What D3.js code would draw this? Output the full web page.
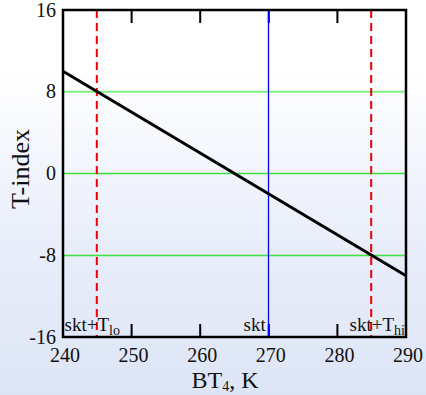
<!DOCTYPE html>
<html><head><meta charset="utf-8">
<script src="https://cdn.jsdelivr.net/npm/d3@7"></script>
<style>
html,body{margin:0;padding:0;}
body{width:426px;height:395px;overflow:hidden;background:linear-gradient(to bottom,#ffffff 0%,#ffffff 18%,#e9eefa 60%,#dde5f5 100%);}
svg{display:block;}
</style></head>
<body>
<script>
const xDomain = [240, 290];
const yDomain = [-16, 16];
const xTicks = [240, 250, 260, 270, 280, 290];
const yTicks = [16, 8, 0, -8, -16];
const lineX = [240, 290];
const lineY = [10, -10];
const hGrid = [8, 0, -8];
const skt = 270;
const tLo = -25;
const tHi = 15;
const innerTicks = [250, 260, 270, 280];

const W = 426, H = 395;
const FONT = "'Liberation Serif', 'Times New Roman', serif";
const m = {l: 63, r: 20, t: 10, b: 58};
const svg = d3.select("body").append("svg").attr("width", W).attr("height", H);
const x = d3.scaleLinear().domain(xDomain).range([m.l, W - m.r]);
const y = d3.scaleLinear().domain(yDomain).range([H - m.b, m.t]);

const g = svg.append("g");
// green horizontal lines
hGrid.forEach((v, i) => {
  const yy = i === 0 ? y(v) : Math.floor(y(v)) + 0.5;
  g.append("line").attr("x1", x(xDomain[0])).attr("x2", x(xDomain[1]))
    .attr("y1", yy).attr("y2", yy)
    .attr("stroke", i === 0 ? "#80ee80" : "#3ee03e")
    .attr("stroke-width", i === 0 ? 2 : 1.4);
});
// inner ticks top and bottom
innerTicks.forEach(v => {
  g.append("line").attr("x1", x(v)).attr("x2", x(v)).attr("y1", y(16)).attr("y2", y(16) + 13)
    .attr("stroke", "#000").attr("stroke-width", 2);
  g.append("line").attr("x1", x(v)).attr("x2", x(v)).attr("y1", y(-16)).attr("y2", y(-16) - 13)
    .attr("stroke", "#000").attr("stroke-width", 2);
});
// blue skt line
g.append("line").attr("x1", Math.round(x(skt)) - 0.5).attr("x2", Math.round(x(skt)) - 0.5).attr("y1", y(16)).attr("y2", y(-16))
  .attr("stroke", "#0000ff").attr("stroke-width", 1.3);
// red dashed lines
[skt + tLo, skt + tHi].forEach(v => {
  g.append("line").attr("x1", x(v) - 0.5).attr("x2", x(v) - 0.5).attr("y1", y(16)).attr("y2", y(-16))
    .attr("stroke", "#ee0000").attr("stroke-width", 2).attr("stroke-dasharray", "8,5");
});
// black T-index line
const line = d3.line().x(d => x(d[0])).y(d => y(d[1]));
g.append("path").datum(lineX.map((v, i) => [v, lineY[i]])).attr("d", line)
  .attr("fill", "none").attr("stroke", "#000").attr("stroke-width", 3);
// frame
g.append("rect").attr("x", x(240)).attr("y", y(16)).attr("width", x(290) - x(240)).attr("height", y(-16) - y(16))
  .attr("fill", "none").attr("stroke", "#000").attr("stroke-width", 2.5);

// axis labels
xTicks.forEach(v => {
  svg.append("text").attr("x", x(v) + 2).attr("y", y(-16) + 25).attr("text-anchor", "middle")
    .style("font-family", FONT).attr("font-size", 20).attr("fill", "#111").text(v);
});
yTicks.forEach(v => {
  svg.append("text").attr("x", m.l - 7).attr("y", y(v) + 6.5).attr("text-anchor", "end")
    .style("font-family", FONT).attr("font-size", 20).attr("fill", "#111").text(v);
});
// x title
const xt = svg.append("text").attr("x", 225).attr("y", 388).attr("text-anchor", "middle")
  .style("font-family", FONT).attr("font-size", 24).attr("fill", "#111");
xt.append("tspan").text("BT");
xt.append("tspan").attr("font-size", 14).attr("dy", 3).text("4");
xt.append("tspan").attr("dy", -3).text(", K");
// y title
svg.append("text").attr("transform", "translate(29,169) rotate(-90)")
  .attr("text-anchor", "middle").style("font-family", FONT).attr("font-size", 26).attr("fill", "#111").text("T-index");

// annotations
function ann(xpos, anchor, sub) {
  const t = svg.append("text").attr("x", xpos).attr("y", 331).attr("text-anchor", anchor)
    .style("font-family", FONT).attr("font-size", 19).attr("fill", "#111");
  t.append("tspan").text(sub ? "skt+T" : "skt");
  if (sub) t.append("tspan").attr("font-size", 14).attr("dy", 4).text(sub);
}
ann(x(240) + 1.5, "start", "lo");
ann(x(skt) - 3, "end", null);
ann(x(290) - 1, "end", "hi");
</script>
</body></html>
